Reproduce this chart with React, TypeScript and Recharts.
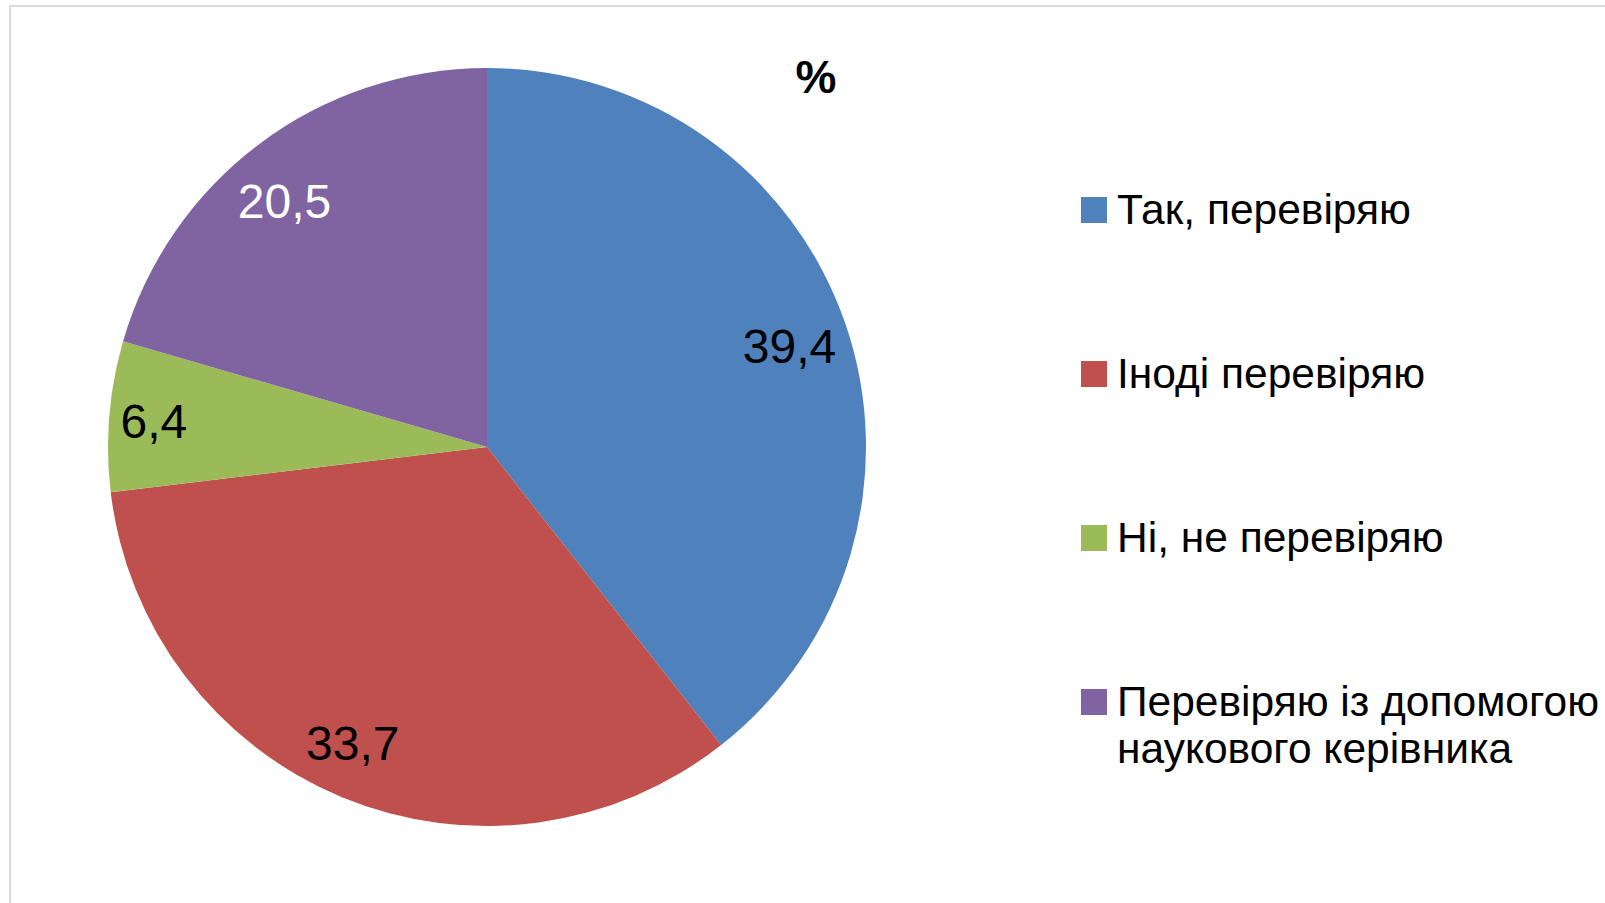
import React from "react";
import { PieChart, Pie, Cell, Legend } from "recharts";

const categories = [
  "Так, перевіряю",
  "Іноді перевіряю",
  "Ні, не перевіряю",
  "Перевіряю із допомогою наукового керівника",
];
const values = [39.4, 33.7, 6.4, 20.5];
const colors = ["#4F81BD", "#C0504D", "#9BBB59", "#8064A2"];
const labelColors = ["#000", "#000", "#000", "#fff"];
// small nudges so the labels sit where Excel's "best fit" put them
const labelNudge = [
  [-2, 5],
  [-11, -1],
  [-12, 1],
  [-9, 12],
];

const data = categories.map((name, i) => ({ name, value: values[i] }));

const FONT = "'Liberation Sans', Arial, sans-serif";
const RAD = Math.PI / 180;

const renderLabel = (props: any) => {
  const { cx, cy, midAngle, outerRadius, value, index } = props;
  const r = outerRadius * 0.85;
  const x = cx + r * Math.cos(-midAngle * RAD) + labelNudge[index][0];
  const y = cy + r * Math.sin(-midAngle * RAD) + labelNudge[index][1];
  return (
    <text
      x={x}
      y={y}
      fill={labelColors[index]}
      textAnchor="middle"
      dominantBaseline="central"
      fontSize={48}
      fontFamily={FONT}
    >
      {String(value).replace(".", ",")}
    </text>
  );
};

const renderLegend = (props: any) => {
  const payload = [...(props.payload || [])].sort(
    (a: any, b: any) => categories.indexOf(a.value) - categories.indexOf(b.value)
  );
  return (
    <div style={{ fontFamily: FONT, fontSize: 42.5, color: "#000" }}>
      {payload.map((entry: any, i: number) => (
        <div
          key={i}
          style={{ display: "flex", alignItems: "flex-start", height: 164 }}
        >
          <div
            style={{
              width: 26,
              height: 26,
              marginTop: 11,
              marginRight: 10,
              background: entry.color,
              flexShrink: 0,
            }}
          />
          <div style={{ lineHeight: "47px", width: 490 }}>{entry.value}</div>
        </div>
      ))}
    </div>
  );
};

export default function App() {
  return (
    <div
      style={{
        position: "absolute",
        left: 0,
        top: 0,
        width: 1605,
        height: 903,
        overflow: "hidden",
        background: "#fff",
      }}
    >
      <div
        style={{
          position: "absolute",
          left: 9,
          top: 5,
          width: 1700,
          height: 1000,
          border: "2px solid #d9d9d9",
        }}
      />
      <div
        style={{
          position: "absolute",
          left: 776,
          top: 48,
          width: 80,
          textAlign: "center",
          fontFamily: FONT,
          fontWeight: "bold",
          fontSize: 46,
          lineHeight: "58px",
        }}
      >
        %
      </div>
      <PieChart
        width={1605}
        height={903}
        margin={{ top: 0, right: 0, bottom: 0, left: 0 }}
        style={{ position: "absolute", left: 0, top: 0 }}
      >
        <Pie
          data={data}
          dataKey="value"
          nameKey="name"
          cx={487}
          cy={447}
          outerRadius={379}
          startAngle={90}
          endAngle={-270}
          stroke="none"
          label={renderLabel}
          labelLine={false}
          isAnimationActive={false}
        >
          {data.map((d, i) => (
            <Cell key={d.name} fill={colors[i]} />
          ))}
        </Pie>
        <Legend
          layout="vertical"
          align="right"
          verticalAlign="middle"
          itemSorter={null as any}
          content={renderLegend}
          wrapperStyle={{ position: "absolute", left: 1081, top: 186, width: 520 }}
        />
      </PieChart>
    </div>
  );
}
